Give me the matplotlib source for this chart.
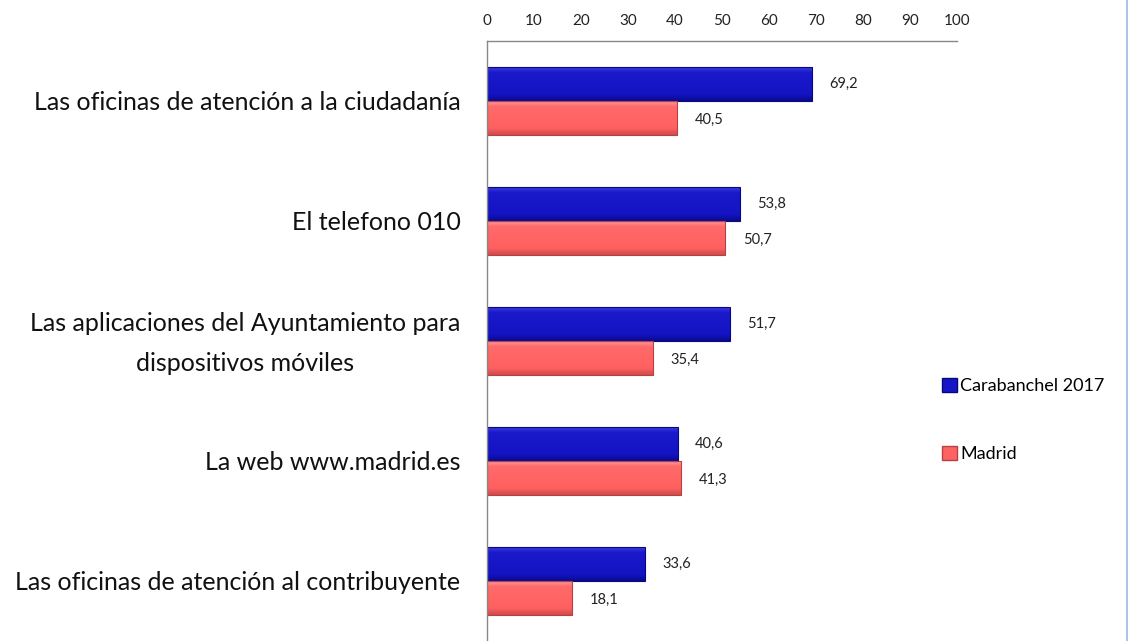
import matplotlib
matplotlib.use("Agg")
import matplotlib.pyplot as plt
import numpy as np
from matplotlib.lines import Line2D
from matplotlib.patches import Patch
from matplotlib.colors import LinearSegmentedColormap
from matplotlib.transforms import ScaledTranslation

categories = [
    "Las oficinas de atención a la ciudadanía",
    "El telefono 010",
    "Las aplicaciones del Ayuntamiento para\ndispositivos móviles",
    "La web www.madrid.es",
    "Las oficinas de atención al contribuyente",
]
carabanchel = [69.2, 53.8, 51.7, 40.6, 33.6]
madrid = [40.5, 50.7, 35.4, 41.3, 18.1]
series_names = ["Carabanchel 2017", "Madrid"]
xticks = list(range(0, 101, 10))

plt.rcParams['font.family'] = ['Lato', 'DejaVu Sans']

fig = plt.figure(figsize=(11.47, 6.41), dpi=100)
ax = fig.add_axes([487/1147, 0.0, 470/1147, 600/641])

y = np.arange(len(categories))
h = 0.28
blue = "#1616C8"
blue_edge = "#08087A"
red = "#FF6262"
red_edge = "#B84040"

b1 = ax.barh(y - h/2, carabanchel, height=h, color=blue, edgecolor=blue_edge, linewidth=0.8, zorder=2)
b2 = ax.barh(y + h/2, madrid, height=h, color=red, edgecolor=red_edge, linewidth=0.8, zorder=2)

# bevel-like vertical shading (light top edge, dark bottom edge), clipped to each bar
cm_blue = LinearSegmentedColormap.from_list(
    "b", [(0, "#3C3CE0"), (0.15, "#1A1ACC"), (0.8, "#1414C4"), (1.0, "#0A0A90")])
cm_red = LinearSegmentedColormap.from_list(
    "r", [(0, "#FF9C9C"), (0.15, "#FF6A6A"), (0.8, "#FF6060"), (1.0, "#D04C4C")])
grad = np.linspace(0, 1, 64).reshape(-1, 1)
for bars, cmap in ((b1, cm_blue), (b2, cm_red)):
    for r in bars:
        x0, y0 = r.get_x(), r.get_y()
        w, hh = r.get_width(), r.get_height()
        im = ax.imshow(grad, cmap=cmap, aspect='auto', extent=(x0, x0 + w, y0 + hh, y0),
                       origin='upper', zorder=2.1, interpolation='bilinear')
        im.set_clip_path(r)
    for r in bars:
        r.set_facecolor('none')
        r.set_zorder(2.2)

for i in range(len(categories)):
    ax.text(carabanchel[i] + 3.7, y[i] - h/2, f"{carabanchel[i]:.1f}".replace('.', ','),
            va='center', ha='left', fontsize=10.5, color="#222222")
    ax.text(madrid[i] + 3.7, y[i] + h/2 + 0.02, f"{madrid[i]:.1f}".replace('.', ','),
            va='center', ha='left', fontsize=10.5, color="#222222")

ax.set_xlim(0, 100)
ax.set_ylim(len(categories) - 0.5, -0.5)
ax.xaxis.tick_top()
ax.set_xticks(xticks)
ax.set_xticklabels([str(t) for t in xticks], fontsize=11, color="#222222")
ax.tick_params(axis='x', length=0, pad=9.5)
ax.set_yticks(y)
ax.set_yticklabels(categories, fontsize=18, color="#111111", multialignment='center', linespacing=1.9)
ax.tick_params(axis='y', length=0, pad=19)
for lab in ax.get_yticklabels():
    if "\n" in lab.get_text():
        lab.set_transform(lab.get_transform() + ScaledTranslation(0, 8/100, fig.dpi_scale_trans))
for s in ("right", "bottom"):
    ax.spines[s].set_visible(False)
for s in ("top", "left"):
    ax.spines[s].set_color("#888888")
    ax.spines[s].set_linewidth(1.0)

handles = [Patch(facecolor=blue, edgecolor=blue_edge), Patch(facecolor=red, edgecolor=red_edge)]
fig.legend(handles, series_names, loc='upper left', bbox_to_anchor=(935/1147, 1 - 371/641),
           frameon=False, fontsize=13, handlelength=0.8, handleheight=0.8, handletextpad=0.2,
           labelspacing=2.85, borderaxespad=0)

fig.add_artist(Line2D([1127/1147, 1127/1147], [0, 1], color="#9DB8E0", linewidth=1.2))

fig.savefig("out.png", dpi=100, facecolor="white")
